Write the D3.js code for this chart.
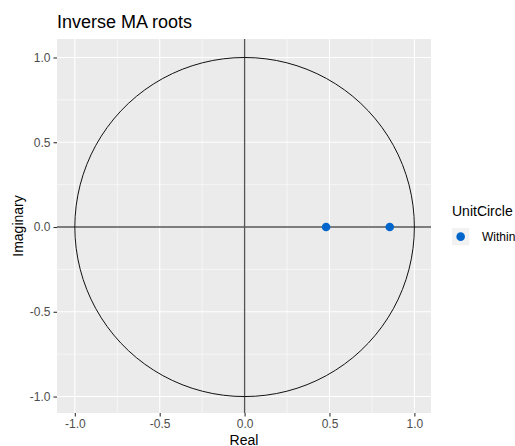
<!DOCTYPE html>
<html>
<head>
<meta charset="utf-8">
<script src="https://cdn.jsdelivr.net/npm/d3@7"></script>
<style>
  body { margin: 0; background: #fff; }
  svg { display: block; font-family: "Liberation Sans", Arial, sans-serif; }
</style>
</head>
<body>
<svg id="chart" width="515" height="446"></svg>
<script>
// Inverse MA roots (real, imaginary)
const rootReal = [0.48, 0.855];
const rootImag = [0, 0];
const rootStatus = ["Within", "Within"];

const xTicks = [-1.0, -0.5, 0.0, 0.5, 1.0];
const yTicks = [-1.0, -0.5, 0.0, 0.5, 1.0];
const xMinor = [-0.75, -0.25, 0.25, 0.75];
const yMinor = [-0.75, -0.25, 0.25, 0.75];
const legendLevels = ["Within"];
const legendColours = ["#0066CC"];

const svg = d3.select("#chart");
const panel = { left: 57, top: 39, right: 431, bottom: 413 };

const x = d3.scaleLinear().domain([-1.105, 1.098]).range([panel.left, panel.right]);
const y = d3.scaleLinear().domain([-1.097, 1.109]).range([panel.bottom, panel.top]);
const colour = d3.scaleOrdinal().domain(legendLevels).range(legendColours);

// panel background
svg.append("rect")
  .attr("x", panel.left).attr("y", panel.top)
  .attr("width", panel.right - panel.left).attr("height", panel.bottom - panel.top)
  .attr("fill", "#EBEBEB");

const grid = svg.append("g");
// minor grid
grid.selectAll(".vmin").data(xMinor).join("line")
  .attr("x1", d => x(d)).attr("x2", d => x(d))
  .attr("y1", panel.top).attr("y2", panel.bottom)
  .attr("stroke", "#fff").attr("stroke-width", 0.55);
grid.selectAll(".hmin").data(yMinor).join("line")
  .attr("y1", d => y(d)).attr("y2", d => y(d))
  .attr("x1", panel.left).attr("x2", panel.right)
  .attr("stroke", "#fff").attr("stroke-width", 0.55);
// major grid
grid.selectAll(".vmaj").data(xTicks).join("line")
  .attr("x1", d => x(d)).attr("x2", d => x(d))
  .attr("y1", panel.top).attr("y2", panel.bottom)
  .attr("stroke", "#fff").attr("stroke-width", 1.1);
grid.selectAll(".hmaj").data(yTicks).join("line")
  .attr("y1", d => y(d)).attr("y2", d => y(d))
  .attr("x1", panel.left).attr("x2", panel.right)
  .attr("stroke", "#fff").attr("stroke-width", 1.1);

// reference lines through the origin
svg.append("line")
  .attr("x1", x(0)).attr("x2", x(0)).attr("y1", panel.top).attr("y2", panel.bottom)
  .attr("stroke", "#555").attr("stroke-width", 1.3);
svg.append("line")
  .attr("y1", y(0)).attr("y2", y(0)).attr("x1", panel.left).attr("x2", panel.right)
  .attr("stroke", "#555").attr("stroke-width", 1.3);

// unit circle
const angles = d3.range(0, 101).map(i => -Math.PI + i * 2 * Math.PI / 100);
svg.append("path")
  .datum(angles)
  .attr("d", d3.line().x(a => x(Math.cos(a))).y(a => y(Math.sin(a))))
  .attr("fill", "none").attr("stroke", "#111").attr("stroke-width", 1);

// roots
svg.append("g").selectAll("circle")
  .data(rootReal.map((r, i) => ({ re: r, im: rootImag[i], s: rootStatus[i] })))
  .join("circle")
  .attr("cx", d => x(d.re)).attr("cy", d => y(d.im))
  .attr("r", 4.3)
  .attr("fill", d => colour(d.s));

// axes
const xAxis = svg.append("g").attr("transform", `translate(0,${panel.bottom})`)
  .call(d3.axisBottom(x).tickValues(xTicks).tickFormat(d3.format(".1f")).tickSizeInner(3.5).tickSizeOuter(0).tickPadding(3));
const yAxis = svg.append("g").attr("transform", `translate(${panel.left},0)`)
  .call(d3.axisLeft(y).tickValues(yTicks).tickFormat(d3.format(".1f")).tickSizeInner(3.5).tickSizeOuter(0).tickPadding(3));
[xAxis, yAxis].forEach(a => {
  a.select(".domain").remove();
  a.selectAll(".tick line").attr("stroke", "#333").attr("stroke-width", 1.1);
  a.selectAll(".tick text").attr("fill", "#4D4D4D").attr("font-size", "12px")
    .style("font-family", "'Liberation Sans', Arial, sans-serif");
});
xAxis.selectAll(".tick text").text(d => d3.format(".1f")(d).replace("−", "-"));
yAxis.selectAll(".tick text").text(d => d3.format(".1f")(d).replace("−", "-"));

// titles
svg.append("text").attr("x", panel.left).attr("y", 28)
  .attr("font-size", "18px").attr("fill", "#000").text("Inverse MA roots");
svg.append("text").attr("x", (panel.left + panel.right) / 2).attr("y", 444.5)
  .attr("text-anchor", "middle").attr("font-size", "14px").attr("fill", "#000").text("Real");
svg.append("text")
  .attr("transform", `translate(23,${(panel.top + panel.bottom) / 2}) rotate(-90)`)
  .attr("text-anchor", "middle").attr("font-size", "14px").attr("fill", "#000").text("Imaginary");

// legend
const leg = svg.append("g").attr("transform", "translate(452,0)");
leg.append("text").attr("x", 0).attr("y", 216).attr("font-size", "14px").attr("fill", "#000").text("UnitCircle");
legendLevels.forEach((lv, i) => {
  const ky = 228 + i * 17.3;
  leg.append("rect").attr("x", 0).attr("y", ky).attr("width", 17.3).attr("height", 17.3).attr("fill", "#F2F2F2");
  leg.append("circle").attr("cx", 8.65).attr("cy", ky + 8.65).attr("r", 4.3).attr("fill", colour(lv));
  leg.append("text").attr("x", 30).attr("y", ky + 13).attr("font-size", "12px").attr("fill", "#000").text(lv);
});
</script>
</body>
</html>
